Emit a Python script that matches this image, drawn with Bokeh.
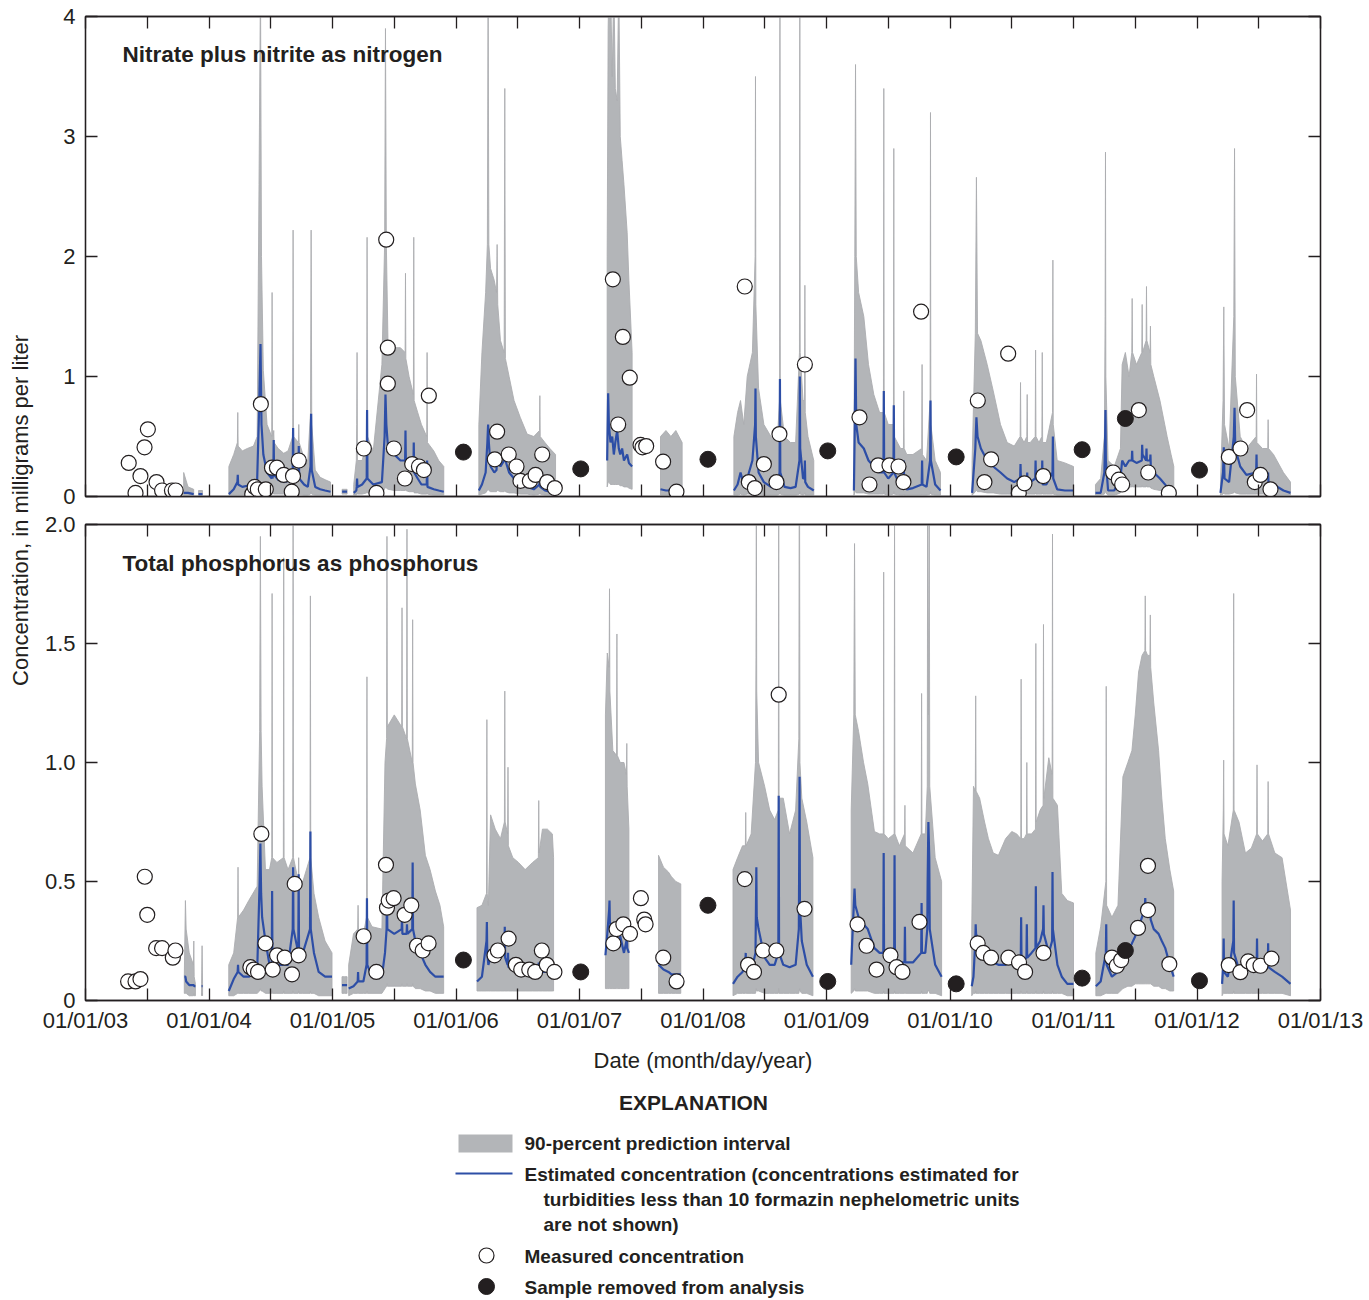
import math
from bokeh.plotting import figure
from bokeh.layouts import column, row
from bokeh.models import FixedTicker, LinearAxis, Range1d, Label
from bokeh.embed import file_html
from bokeh.resources import INLINE

FONT = "Liberation Sans"
INK = "#231f20"
BAND = "#b3b5b8"
BAND_EDGE = "#abadb0"
BLUE = "#2d4ea6"

# ---------------------------------------------------------------- axis labels
YEAR_TICKS = list(range(2003, 2014))
YEAR_LABELS = ["01/01/03", "01/01/04", "01/01/05", "01/01/06", "01/01/07", "01/01/08",
               "01/01/09", "01/01/10", "01/01/11", "01/01/12", "01/01/13"]
HALF_YEAR_TICKS = [2003.5, 2004.5, 2005.5, 2006.5, 2007.5, 2008.5, 2009.5, 2010.5, 2011.5, 2012.5]
NO3_YTICKS = [0, 1, 2, 3, 4]
NO3_YLABELS = ["0", "1", "2", "3", "4"]
TP_YTICKS = [0, 0.5, 1.0, 1.5, 2.0]
TP_YLABELS = ["0", "0.5", "1.0", "1.5", "2.0"]

# ------------------------------------------- nitrate plus nitrite (mg/L), by season
NO3_T = [
    [2003.795, 2003.83, 2003.876],
    [2003.915, 2003.947],
    [2004.161, 2004.20, 2004.230, 2004.233, 2004.236, 2004.27, 2004.31, 2004.36, 2004.39, 2004.405,
     2004.417, 2004.425, 2004.44, 2004.47, 2004.508, 2004.511, 2004.514, 2004.521, 2004.524, 2004.527,
     2004.56, 2004.605, 2004.64, 2004.678, 2004.681, 2004.684, 2004.724, 2004.727, 2004.730, 2004.77,
     2004.80, 2004.822, 2004.827, 2004.832, 2004.86, 2004.90, 2004.94, 2004.984],
    [2005.078, 2005.098, 2005.118],
    [2005.172, 2005.193, 2005.196, 2005.199, 2005.202, 2005.24, 2005.277, 2005.280, 2005.283, 2005.33,
     2005.40, 2005.422, 2005.429, 2005.436, 2005.45, 2005.50, 2005.55, 2005.588, 2005.591, 2005.594,
     2005.62, 2005.655, 2005.658, 2005.661, 2005.69, 2005.72, 2005.763, 2005.766, 2005.769, 2005.82,
     2005.86, 2005.901],
    [2006.185, 2006.21, 2006.24, 2006.254, 2006.260, 2006.266, 2006.28, 2006.31, 2006.328, 2006.333,
     2006.338, 2006.36, 2006.390, 2006.395, 2006.400, 2006.43, 2006.47, 2006.52, 2006.576, 2006.63,
     2006.676, 2006.679, 2006.682, 2006.72, 2006.76, 2006.806],
    [2007.224, 2007.232, 2007.238, 2007.251, 2007.265, 2007.278, 2007.29, 2007.305, 2007.318, 2007.33,
     2007.345, 2007.36, 2007.386, 2007.40, 2007.426],
    [2007.656, 2007.70, 2007.74, 2007.78, 2007.831],
    [2008.25, 2008.28, 2008.304, 2008.33, 2008.358, 2008.40, 2008.422, 2008.425, 2008.428, 2008.45,
     2008.493, 2008.55, 2008.60, 2008.620, 2008.623, 2008.626, 2008.66, 2008.709, 2008.75, 2008.781,
     2008.784, 2008.787, 2008.81, 2008.822, 2008.825, 2008.828, 2008.85, 2008.897],
    [2009.222, 2009.229, 2009.235, 2009.241, 2009.26, 2009.302, 2009.34, 2009.383, 2009.43, 2009.461,
     2009.464, 2009.467, 2009.50, 2009.542, 2009.545, 2009.548, 2009.60, 2009.623, 2009.626, 2009.629,
     2009.65, 2009.70, 2009.771, 2009.774, 2009.777, 2009.81, 2009.839, 2009.842, 2009.845, 2009.88,
     2009.923],
    [2010.179, 2010.205, 2010.214, 2010.223, 2010.25, 2010.301, 2010.35, 2010.409, 2010.463, 2010.52,
     2010.568, 2010.571, 2010.574, 2010.60, 2010.622, 2010.625, 2010.628, 2010.65, 2010.69, 2010.693,
     2010.696, 2010.72, 2010.744, 2010.747, 2010.750, 2010.78, 2010.830, 2010.833, 2010.836, 2010.868,
     2010.93, 2011.0],
    [2011.178, 2011.22, 2011.25, 2011.256, 2011.259, 2011.262, 2011.28, 2011.33, 2011.38, 2011.394,
     2011.42, 2011.45, 2011.472, 2011.475, 2011.478, 2011.51, 2011.553, 2011.556, 2011.559, 2011.588,
     2011.591, 2011.594, 2011.620, 2011.623, 2011.626, 2011.65, 2011.70, 2011.758, 2011.79, 2011.812],
    [2012.19, 2012.211, 2012.217, 2012.223, 2012.26, 2012.298, 2012.304, 2012.310, 2012.35, 2012.40,
     2012.479, 2012.482, 2012.485, 2012.53, 2012.573, 2012.576, 2012.579, 2012.62, 2012.70, 2012.757],
]
NO3_HI = [
    [0.20, 0.08, 0.06],
    [0.05, 0.05],
    [0.25, 0.35, 0.45, 0.70, 0.42, 0.38, 0.40, 0.42, 0.50, 2.60,
     4.30, 2.00, 1.05, 0.60, 0.50, 1.70, 0.50, 0.50, 0.55, 0.45,
     0.40, 0.36, 0.38, 0.50, 2.22, 0.50, 0.45, 0.60, 0.45, 0.32,
     0.30, 0.70, 2.22, 0.60, 0.22, 0.16, 0.14, 0.12],
    [0.06, 0.06, 0.06],
    [0.10, 0.30, 0.60, 1.20, 0.30, 0.30, 0.45, 2.16, 0.50, 0.38,
     1.10, 2.10, 3.90, 2.10, 1.24, 1.24, 1.24, 1.20, 1.86, 1.15,
     1.00, 0.85, 2.16, 0.80, 0.70, 0.60, 0.50, 1.20, 0.45, 0.38,
     0.30, 0.25],
    [0.60, 1.20, 1.70, 2.10, 4.30, 2.10, 1.90, 1.80, 1.70, 2.10,
     1.60, 1.30, 1.20, 3.40, 1.15, 1.00, 0.80, 0.66, 0.52, 0.50,
     0.55, 0.84, 0.50, 0.45, 0.40, 0.35],
    [2.00, 3.90, 4.30, 4.30, 3.50, 4.30, 3.40, 3.30, 4.30, 3.00,
     2.80, 2.60, 2.20, 1.80, 1.20],
    [0.50, 0.55, 0.50, 0.55, 0.45],
    [0.50, 0.70, 0.80, 0.60, 1.00, 1.20, 2.00, 3.50, 1.60, 0.90,
     0.60, 0.50, 0.45, 0.80, 4.30, 0.80, 0.50, 0.45, 0.45, 1.20,
     4.30, 1.20, 0.80, 0.80, 1.76, 0.70, 0.50, 0.30],
    [0.30, 2.00, 3.60, 2.00, 1.70, 1.50, 1.10, 0.85, 0.70, 0.70,
     3.40, 0.70, 0.60, 0.60, 2.90, 0.50, 0.40, 0.40, 0.88, 0.40,
     0.35, 0.35, 0.40, 1.10, 0.35, 0.30, 0.80, 3.20, 0.60, 0.30,
     0.20],
    [0.30, 1.36, 2.66, 1.36, 1.30, 1.10, 0.88, 0.60, 0.45, 0.42,
     0.50, 0.95, 0.50, 0.45, 0.50, 0.85, 0.45, 0.45, 0.50, 1.22,
     0.50, 0.45, 0.50, 1.20, 0.45, 0.45, 0.70, 1.97, 0.60, 0.30,
     0.28, 0.25],
    [0.10, 0.15, 0.50, 1.50, 2.87, 1.00, 0.30, 0.25, 0.40, 1.10,
     1.20, 1.00, 1.20, 1.65, 1.20, 1.10, 1.20, 1.60, 1.20, 1.30,
     1.75, 1.30, 1.20, 1.42, 1.10, 1.00, 0.80, 0.50, 0.35, 0.25],
    [0.10, 0.80, 1.58, 0.60, 0.40, 1.50, 2.90, 1.00, 0.50, 0.40,
     0.50, 1.02, 0.45, 0.40, 0.40, 0.64, 0.40, 0.35, 0.20, 0.12],
]
NO3_EST = [
    [0.03, 0.03, 0.02],
    [0.02, 0.02],
    [0.02, 0.06, 0.12, 0.18, 0.10, 0.08, 0.09, 0.10, 0.14, 0.70,
     1.27, 0.60, 0.35, 0.20, 0.15, 0.30, 0.15, 0.20, 0.47, 0.18,
     0.14, 0.12, 0.13, 0.20, 0.57, 0.20, 0.18, 0.42, 0.15, 0.10,
     0.08, 0.25, 0.69, 0.22, 0.08, 0.06, 0.05, 0.04],
    [0.04, 0.04, 0.04],
    [0.03, 0.05, 0.08, 0.15, 0.08, 0.10, 0.15, 0.72, 0.15, 0.10,
     0.12, 0.50, 0.85, 0.60, 0.40, 0.35, 0.30, 0.30, 0.55, 0.30,
     0.25, 0.22, 0.45, 0.20, 0.15, 0.10, 0.10, 0.30, 0.08, 0.06,
     0.05, 0.04],
    [0.05, 0.10, 0.20, 0.45, 0.60, 0.45, 0.25, 0.20, 0.22, 0.35,
     0.30, 0.25, 0.30, 0.40, 0.30, 0.20, 0.15, 0.10, 0.08, 0.06,
     0.10, 0.22, 0.08, 0.05, 0.04, 0.03],
    [0.30, 0.86, 0.60, 0.45, 0.50, 0.35, 0.45, 0.55, 0.40, 0.35,
     0.40, 0.30, 0.35, 0.28, 0.25],
    [0.06, 0.05, 0.05, 0.04, 0.03],
    [0.05, 0.10, 0.20, 0.10, 0.15, 0.30, 0.60, 0.90, 0.50, 0.20,
     0.12, 0.08, 0.07, 0.20, 0.98, 0.20, 0.08, 0.07, 0.08, 0.30,
     1.00, 0.40, 0.15, 0.15, 0.30, 0.12, 0.08, 0.05],
    [0.05, 0.60, 1.15, 0.60, 0.45, 0.40, 0.30, 0.25, 0.20, 0.20,
     0.88, 0.20, 0.15, 0.20, 0.76, 0.20, 0.08, 0.08, 0.30, 0.07,
     0.06, 0.07, 0.10, 0.30, 0.10, 0.08, 0.30, 0.80, 0.30, 0.10,
     0.05],
    [0.03, 0.40, 0.66, 0.50, 0.40, 0.30, 0.25, 0.20, 0.15, 0.12,
     0.15, 0.27, 0.15, 0.12, 0.12, 0.20, 0.12, 0.12, 0.15, 0.30,
     0.15, 0.12, 0.12, 0.30, 0.10, 0.10, 0.20, 0.50, 0.15, 0.06,
     0.05, 0.05],
    [0.03, 0.03, 0.20, 0.50, 0.72, 0.30, 0.05, 0.05, 0.15, 0.30,
     0.25, 0.30, 0.30, 0.38, 0.30, 0.28, 0.30, 0.43, 0.35, 0.30,
     0.40, 0.30, 0.30, 0.35, 0.25, 0.20, 0.15, 0.08, 0.05, 0.04],
    [0.03, 0.20, 0.41, 0.15, 0.12, 0.50, 0.74, 0.40, 0.25, 0.18,
     0.20, 0.35, 0.18, 0.15, 0.15, 0.20, 0.12, 0.10, 0.05, 0.03],
]
NO3_LO = [
    [0.01, 0.01, 0.01],
    [0.01, 0.01],
    [0.01, 0.01, 0.01, 0.01, 0.01, 0.01, 0.01, 0.01, 0.01, 0.05,
     0.08, 0.05, 0.03, 0.02, 0.02, 0.03, 0.02, 0.02, 0.03, 0.02,
     0.02, 0.02, 0.02, 0.02, 0.04, 0.02, 0.02, 0.03, 0.02, 0.01,
     0.01, 0.02, 0.04, 0.02, 0.01, 0.01, 0.01, 0.01],
    [0.02, 0.02, 0.02],
    [0.01, 0.01, 0.02, 0.03, 0.02, 0.02, 0.03, 0.05, 0.03, 0.02,
     0.03, 0.06, 0.08, 0.07, 0.06, 0.05, 0.05, 0.05, 0.06, 0.05,
     0.04, 0.04, 0.05, 0.03, 0.03, 0.02, 0.02, 0.03, 0.02, 0.01,
     0.01, 0.01],
    [0.01, 0.02, 0.03, 0.05, 0.06, 0.05, 0.04, 0.04, 0.04, 0.05,
     0.05, 0.04, 0.04, 0.05, 0.04, 0.03, 0.03, 0.02, 0.02, 0.01,
     0.02, 0.03, 0.02, 0.01, 0.01, 0.01],
    [0.08, 0.12, 0.12, 0.10, 0.10, 0.10, 0.10, 0.10, 0.10, 0.09,
     0.09, 0.08, 0.08, 0.07, 0.06],
    [0.01, 0.01, 0.01, 0.01, 0.01],
    [0.01, 0.01, 0.02, 0.01, 0.02, 0.02, 0.03, 0.04, 0.03, 0.02,
     0.01, 0.01, 0.01, 0.02, 0.04, 0.02, 0.01, 0.01, 0.01, 0.02,
     0.04, 0.02, 0.01, 0.02, 0.03, 0.01, 0.01, 0.01],
    [0.01, 0.03, 0.05, 0.03, 0.03, 0.03, 0.02, 0.02, 0.02, 0.02,
     0.05, 0.02, 0.01, 0.02, 0.04, 0.02, 0.01, 0.01, 0.02, 0.01,
     0.01, 0.01, 0.01, 0.02, 0.01, 0.01, 0.02, 0.04, 0.02, 0.01,
     0.01],
    [0.01, 0.04, 0.05, 0.04, 0.04, 0.03, 0.03, 0.02, 0.02, 0.02,
     0.02, 0.03, 0.02, 0.02, 0.02, 0.02, 0.02, 0.02, 0.02, 0.03,
     0.02, 0.02, 0.02, 0.03, 0.02, 0.02, 0.02, 0.04, 0.02, 0.01,
     0.01, 0.01],
    [0.01, 0.01, 0.02, 0.04, 0.05, 0.03, 0.01, 0.01, 0.03, 0.08,
     0.08, 0.08, 0.08, 0.09, 0.08, 0.08, 0.08, 0.09, 0.08, 0.08,
     0.09, 0.08, 0.08, 0.08, 0.07, 0.06, 0.05, 0.03, 0.02, 0.01],
    [0.01, 0.02, 0.03, 0.02, 0.02, 0.03, 0.04, 0.03, 0.02, 0.02,
     0.02, 0.02, 0.02, 0.02, 0.02, 0.02, 0.02, 0.01, 0.01, 0.01],
]
NO3_MEAS_T = [2003.35, 2003.405, 2003.445, 2003.478, 2003.505, 2003.575, 2003.62, 2003.70, 2003.73,
              2004.35, 2004.37, 2004.395, 2004.42, 2004.46, 2004.51, 2004.55, 2004.605, 2004.67, 2004.68, 2004.727,
              2005.254, 2005.356, 2005.435, 2005.448, 2005.448, 2005.497, 2005.586, 2005.645, 2005.70, 2005.74, 2005.78,
              2006.314, 2006.333, 2006.427, 2006.49, 2006.522, 2006.598, 2006.644, 2006.698, 2006.738, 2006.80,
              2007.27, 2007.313, 2007.351, 2007.407, 2007.494, 2007.51, 2007.54, 2007.677, 2007.785,
              2008.338, 2008.371, 2008.42, 2008.493, 2008.595, 2008.619, 2008.825,
              2009.267, 2009.348, 2009.418, 2009.51, 2009.583, 2009.623, 2009.766,
              2010.225, 2010.279, 2010.333, 2010.471, 2010.557, 2010.603, 2010.755,
              2011.321, 2011.367, 2011.394, 2011.529, 2011.605, 2011.772,
              2012.258, 2012.352, 2012.406, 2012.468, 2012.514, 2012.595]
NO3_MEAS = [0.28, 0.03, 0.17, 0.41, 0.56, 0.12, 0.05, 0.05, 0.05,
            0.02, 0.08, 0.06, 0.77, 0.06, 0.24, 0.24, 0.18, 0.04, 0.17, 0.30,
            0.40, 0.03, 2.14, 1.24, 0.94, 0.40, 0.15, 0.27, 0.25, 0.22, 0.84,
            0.31, 0.54, 0.35, 0.25, 0.13, 0.13, 0.18, 0.35, 0.12, 0.07,
            1.81, 0.60, 1.33, 0.99, 0.43, 0.41, 0.42, 0.29, 0.04,
            1.75, 0.12, 0.07, 0.27, 0.12, 0.52, 1.10,
            0.66, 0.10, 0.26, 0.26, 0.25, 0.12, 1.54,
            0.80, 0.12, 0.31, 1.19, 0.03, 0.11, 0.17,
            0.20, 0.14, 0.10, 0.72, 0.20, 0.03,
            0.33, 0.40, 0.72, 0.12, 0.18, 0.06]

# -------------------------------------------- total phosphorus (mg/L), by season
TP_T = [
    [2003.800, 2003.809, 2003.815, 2003.84, 2003.874, 2003.877, 2003.880, 2003.89],
    [2003.940, 2003.944, 2003.948],
    [2004.16, 2004.20, 2004.232, 2004.235, 2004.238, 2004.28, 2004.322, 2004.39, 2004.410, 2004.416,
     2004.422, 2004.43, 2004.457, 2004.49, 2004.508, 2004.511, 2004.514, 2004.55, 2004.602, 2004.605,
     2004.608, 2004.64, 2004.678, 2004.681, 2004.684, 2004.723, 2004.726, 2004.729, 2004.76, 2004.818,
     2004.821, 2004.824, 2004.85, 2004.888, 2004.94, 2004.996],
    [2005.077, 2005.098, 2005.118],
    [2005.131, 2005.17, 2005.204, 2005.207, 2005.21, 2005.25, 2005.276, 2005.279, 2005.282, 2005.32,
     2005.40, 2005.425, 2005.438, 2005.441, 2005.444, 2005.50, 2005.560, 2005.563, 2005.566, 2005.60,
     2005.603, 2005.606, 2005.646, 2005.649, 2005.652, 2005.671, 2005.71, 2005.752, 2005.79, 2005.833,
     2005.87, 2005.90],
    [2006.170, 2006.21, 2006.247, 2006.250, 2006.253, 2006.262, 2006.28, 2006.318, 2006.36, 2006.392,
     2006.395, 2006.398, 2006.418, 2006.421, 2006.424, 2006.46, 2006.506, 2006.56, 2006.62, 2006.667,
     2006.670, 2006.673, 2006.70, 2006.74, 2006.78, 2006.79],
    [2007.21, 2007.225, 2007.240, 2007.243, 2007.246, 2007.27, 2007.30, 2007.303, 2007.306, 2007.33,
     2007.36, 2007.38, 2007.383, 2007.386, 2007.40],
    [2007.64, 2007.68, 2007.72, 2007.745, 2007.78, 2007.82],
    [2008.243, 2008.28, 2008.32, 2008.343, 2008.346, 2008.349, 2008.39, 2008.425, 2008.429, 2008.432,
     2008.435, 2008.45, 2008.499, 2008.54, 2008.58, 2008.610, 2008.613, 2008.616, 2008.65, 2008.701,
     2008.75, 2008.776, 2008.779, 2008.782, 2008.785, 2008.80, 2008.84, 2008.89],
    [2009.20, 2009.221, 2009.227, 2009.233, 2009.26, 2009.30, 2009.334, 2009.388, 2009.43, 2009.460,
     2009.463, 2009.466, 2009.50, 2009.548, 2009.551, 2009.554, 2009.59, 2009.632, 2009.635, 2009.638,
     2009.70, 2009.767, 2009.770, 2009.773, 2009.80, 2009.816, 2009.819, 2009.825, 2009.832, 2009.836,
     2009.88, 2009.932],
    [2010.176, 2010.19, 2010.205, 2010.208, 2010.211, 2010.24, 2010.28, 2010.311, 2010.35, 2010.392,
     2010.45, 2010.50, 2010.54, 2010.573, 2010.576, 2010.579, 2010.60, 2010.619, 2010.622, 2010.625,
     2010.66, 2010.692, 2010.695, 2010.698, 2010.73, 2010.754, 2010.757, 2010.760, 2010.80, 2010.827,
     2010.830, 2010.833, 2010.87, 2010.905, 2010.95, 2011.0],
    [2011.181, 2011.22, 2011.262, 2011.265, 2011.268, 2011.311, 2011.36, 2011.40, 2011.44, 2011.473,
     2011.50, 2011.527, 2011.555, 2011.578, 2011.581, 2011.584, 2011.60, 2011.619, 2011.622, 2011.625,
     2011.65, 2011.689, 2011.715, 2011.743, 2011.78, 2011.811],
    [2012.203, 2012.213, 2012.216, 2012.219, 2012.25, 2012.294, 2012.297, 2012.30, 2012.34, 2012.392,
     2012.44, 2012.483, 2012.486, 2012.489, 2012.53, 2012.573, 2012.576, 2012.579, 2012.63, 2012.689,
     2012.757],
]
TP_HI = [
    [0.10, 0.42, 0.30, 0.20, 0.15, 0.25, 0.10, 0.07],
    [0.07, 0.23, 0.07],
    [0.15, 0.20, 0.35, 0.56, 0.35, 0.38, 0.42, 0.48, 1.13, 1.95,
     1.13, 0.90, 0.55, 0.55, 0.60, 1.71, 0.60, 0.58, 0.60, 1.86,
     0.60, 0.55, 0.60, 2.05, 0.60, 0.50, 0.60, 0.50, 0.50, 0.60,
     1.70, 0.60, 0.45, 0.35, 0.25, 0.20],
    [0.10, 0.10, 0.10],
    [0.15, 0.28, 0.30, 0.40, 0.30, 0.28, 0.35, 1.36, 0.35, 0.31,
     0.30, 1.00, 1.10, 1.95, 1.15, 1.20, 1.15, 1.65, 1.15, 1.10,
     1.98, 1.10, 1.00, 1.60, 1.00, 0.91, 0.80, 0.61, 0.55, 0.46,
     0.40, 0.31],
    [0.39, 0.40, 0.45, 1.18, 0.45, 0.40, 0.78, 0.72, 0.68, 0.75,
     1.30, 0.75, 0.70, 0.98, 0.65, 0.60, 0.58, 0.55, 0.58, 0.60,
     0.84, 0.62, 0.72, 0.72, 0.70, 0.60],
    [1.20, 1.46, 1.40, 1.73, 1.30, 1.05, 1.03, 1.54, 1.03, 1.00,
     1.00, 0.95, 1.08, 0.90, 0.72],
    [0.61, 0.56, 0.54, 0.52, 0.50, 0.49],
    [0.55, 0.60, 0.65, 0.65, 0.79, 0.65, 0.70, 1.00, 1.44, 2.10,
     1.30, 1.00, 0.90, 0.80, 0.76, 0.80, 2.10, 0.85, 0.85, 0.70,
     0.80, 1.10, 2.10, 2.10, 1.00, 0.85, 0.75, 0.60],
    [0.80, 1.20, 1.92, 1.20, 1.13, 1.00, 0.91, 0.71, 0.70, 0.70,
     1.80, 0.70, 0.68, 0.70, 2.10, 0.70, 0.65, 0.70, 0.82, 0.65,
     0.62, 0.70, 1.29, 0.70, 0.70, 0.90, 2.10, 1.20, 2.10, 0.90,
     0.60, 0.50],
    [0.30, 0.90, 0.88, 1.28, 0.88, 0.85, 0.75, 0.68, 0.62, 0.61,
     0.68, 0.71, 0.70, 0.68, 1.35, 0.68, 0.68, 0.70, 1.00, 0.70,
     0.70, 0.72, 1.50, 0.75, 0.80, 0.82, 1.58, 0.85, 1.02, 0.95,
     1.96, 0.85, 0.82, 0.45, 0.42, 0.41],
    [0.20, 0.31, 0.50, 1.32, 0.40, 0.35, 0.40, 0.94, 1.00, 1.05,
     1.20, 1.38, 1.45, 1.47, 1.70, 1.47, 1.45, 1.45, 1.62, 1.40,
     1.25, 1.05, 0.85, 0.68, 0.55, 0.46],
    [0.50, 0.80, 1.01, 0.70, 0.65, 0.80, 1.71, 0.80, 0.75, 0.62,
     0.64, 0.70, 0.99, 0.70, 0.67, 0.70, 0.92, 0.70, 0.62, 0.60,
     0.38],
]
TP_EST = [
    [0.10, 0.10, 0.08, 0.065, 0.065, 0.065, 0.06, 0.06],
    [0.06, 0.06, 0.06],
    [0.04, 0.09, 0.12, 0.15, 0.12, 0.10, 0.10, 0.12, 0.50, 0.66,
     0.45, 0.35, 0.25, 0.15, 0.15, 0.46, 0.15, 0.15, 0.15, 0.20,
     0.15, 0.15, 0.30, 0.56, 0.30, 0.20, 0.53, 0.20, 0.20, 0.30,
     0.71, 0.30, 0.20, 0.12, 0.10, 0.10],
    [0.065, 0.065, 0.065],
    [0.05, 0.06, 0.08, 0.12, 0.08, 0.08, 0.15, 0.43, 0.15, 0.10,
     0.10, 0.20, 0.30, 0.45, 0.30, 0.28, 0.30, 0.35, 0.28, 0.28,
     0.32, 0.28, 0.30, 0.58, 0.30, 0.25, 0.20, 0.15, 0.12, 0.10,
     0.10, 0.10],
    [0.08, 0.10, 0.25, 0.33, 0.20, 0.15, 0.18, 0.18, 0.18, 0.20,
     0.31, 0.18, 0.15, 0.20, 0.14, 0.14, 0.13, 0.12, 0.12, 0.12,
     0.16, 0.12, 0.12, 0.12, 0.12, 0.11],
    [0.19, 0.28, 0.38, 0.42, 0.33, 0.28, 0.25, 0.30, 0.22, 0.27,
     0.20, 0.25, 0.28, 0.22, 0.20],
    [0.15, 0.13, 0.12, 0.11, 0.11, 0.11],
    [0.07, 0.10, 0.12, 0.15, 0.20, 0.12, 0.12, 0.20, 0.40, 0.56,
     0.35, 0.30, 0.18, 0.15, 0.15, 0.20, 0.86, 0.20, 0.15, 0.14,
     0.15, 0.30, 0.60, 0.94, 0.40, 0.25, 0.15, 0.10],
    [0.15, 0.40, 0.47, 0.40, 0.35, 0.32, 0.30, 0.22, 0.20, 0.20,
     0.62, 0.20, 0.18, 0.20, 0.61, 0.18, 0.16, 0.16, 0.31, 0.16,
     0.16, 0.20, 0.41, 0.20, 0.20, 0.30, 0.50, 0.75, 0.60, 0.30,
     0.15, 0.10],
    [0.06, 0.10, 0.25, 0.32, 0.28, 0.24, 0.20, 0.18, 0.16, 0.15,
     0.15, 0.16, 0.17, 0.17, 0.35, 0.17, 0.17, 0.18, 0.32, 0.18,
     0.20, 0.22, 0.48, 0.22, 0.25, 0.30, 0.40, 0.28, 0.20, 0.25,
     0.54, 0.30, 0.15, 0.10, 0.07, 0.07],
    [0.06, 0.08, 0.20, 0.32, 0.15, 0.10, 0.12, 0.18, 0.20, 0.24,
     0.27, 0.31, 0.35, 0.40, 0.43, 0.40, 0.36, 0.35, 0.38, 0.34,
     0.30, 0.28, 0.25, 0.22, 0.15, 0.10],
    [0.07, 0.15, 0.26, 0.12, 0.10, 0.25, 0.42, 0.20, 0.13, 0.13,
     0.13, 0.15, 0.26, 0.15, 0.13, 0.14, 0.24, 0.14, 0.12, 0.10,
     0.07],
]
TP_LO = [
    [0.03, 0.03, 0.03, 0.02, 0.02, 0.03, 0.02, 0.02],
    [0.02, 0.03, 0.02],
    [0.02, 0.02, 0.03, 0.03, 0.03, 0.03, 0.03, 0.03, 0.04, 0.05,
     0.04, 0.04, 0.03, 0.03, 0.03, 0.04, 0.03, 0.03, 0.03, 0.04,
     0.03, 0.03, 0.03, 0.04, 0.03, 0.03, 0.04, 0.03, 0.03, 0.03,
     0.04, 0.03, 0.03, 0.02, 0.02, 0.02],
    [0.03, 0.03, 0.03],
    [0.02, 0.03, 0.03, 0.03, 0.03, 0.03, 0.03, 0.04, 0.03, 0.03,
     0.03, 0.05, 0.06, 0.07, 0.06, 0.06, 0.06, 0.07, 0.06, 0.06,
     0.07, 0.06, 0.06, 0.07, 0.06, 0.05, 0.05, 0.04, 0.04, 0.03,
     0.03, 0.03],
    [0.04, 0.04, 0.04, 0.04, 0.04, 0.04, 0.04, 0.04, 0.04, 0.04,
     0.04, 0.04, 0.04, 0.04, 0.04, 0.04, 0.04, 0.04, 0.04, 0.04,
     0.04, 0.04, 0.04, 0.04, 0.04, 0.04],
    [0.05, 0.05, 0.05, 0.05, 0.05, 0.05, 0.05, 0.05, 0.05, 0.05,
     0.05, 0.05, 0.05, 0.05, 0.05],
    [0.03, 0.03, 0.03, 0.03, 0.03, 0.03],
    [0.02, 0.03, 0.03, 0.03, 0.03, 0.03, 0.03, 0.03, 0.04, 0.05,
     0.04, 0.04, 0.03, 0.03, 0.03, 0.03, 0.05, 0.03, 0.03, 0.03,
     0.03, 0.03, 0.04, 0.05, 0.04, 0.03, 0.03, 0.02],
    [0.03, 0.04, 0.05, 0.04, 0.04, 0.04, 0.04, 0.03, 0.03, 0.03,
     0.04, 0.03, 0.03, 0.03, 0.04, 0.03, 0.03, 0.03, 0.03, 0.03,
     0.03, 0.03, 0.04, 0.03, 0.03, 0.03, 0.04, 0.04, 0.04, 0.03,
     0.03, 0.02],
    [0.02, 0.03, 0.03, 0.04, 0.03, 0.03, 0.03, 0.03, 0.03, 0.03,
     0.03, 0.03, 0.03, 0.03, 0.04, 0.03, 0.03, 0.03, 0.04, 0.03,
     0.03, 0.03, 0.04, 0.03, 0.03, 0.03, 0.04, 0.03, 0.03, 0.03,
     0.04, 0.03, 0.03, 0.03, 0.02, 0.02],
    [0.02, 0.02, 0.03, 0.03, 0.03, 0.03, 0.03, 0.05, 0.06, 0.06,
     0.07, 0.07, 0.07, 0.07, 0.07, 0.07, 0.07, 0.07, 0.07, 0.07,
     0.06, 0.06, 0.05, 0.05, 0.04, 0.04],
    [0.02, 0.03, 0.03, 0.03, 0.03, 0.03, 0.04, 0.03, 0.03, 0.03,
     0.03, 0.03, 0.03, 0.03, 0.03, 0.03, 0.03, 0.03, 0.03, 0.03,
     0.02],
]
TP_MEAS_T = [2003.345, 2003.405, 2003.445, 2003.48, 2003.50, 2003.572, 2003.62, 2003.707, 2003.728,
             2004.335, 2004.362, 2004.397, 2004.424, 2004.457, 2004.516, 2004.551, 2004.613, 2004.672, 2004.694, 2004.726,
             2005.252, 2005.355, 2005.433, 2005.441, 2005.455, 2005.495, 2005.584, 2005.638, 2005.684, 2005.73, 2005.778,
             2006.312, 2006.339, 2006.426, 2006.485, 2006.528, 2006.593, 2006.641, 2006.695, 2006.735, 2006.797,
             2007.274, 2007.30, 2007.355, 2007.409, 2007.497, 2007.524, 2007.535, 2007.678, 2007.786,
             2008.338, 2008.365, 2008.413, 2008.486, 2008.594, 2008.613, 2008.822,
             2009.251, 2009.324, 2009.405, 2009.518, 2009.567, 2009.615, 2009.753,
             2010.224, 2010.27, 2010.332, 2010.473, 2010.559, 2010.608, 2010.757,
             2011.311, 2011.351, 2011.386, 2011.522, 2011.603, 2011.603, 2011.776,
             2012.257, 2012.351, 2012.414, 2012.459, 2012.514, 2012.603]
TP_MEAS = [0.08, 0.08, 0.09, 0.52, 0.36, 0.22, 0.22, 0.18, 0.21,
           0.14, 0.13, 0.12, 0.70, 0.24, 0.13, 0.19, 0.18, 0.11, 0.49, 0.19,
           0.27, 0.12, 0.57, 0.39, 0.42, 0.43, 0.36, 0.40, 0.23, 0.21, 0.24,
           0.19, 0.21, 0.26, 0.15, 0.13, 0.13, 0.12, 0.21, 0.15, 0.12,
           0.24, 0.30, 0.32, 0.28, 0.43, 0.34, 0.32, 0.18, 0.08,
           0.51, 0.15, 0.12, 0.21, 0.21, 1.285, 0.385,
           0.32, 0.23, 0.13, 0.19, 0.14, 0.12, 0.33,
           0.24, 0.20, 0.18, 0.18, 0.16, 0.12, 0.20,
           0.18, 0.146, 0.17, 0.305, 0.38, 0.566, 0.153,
           0.149, 0.119, 0.164, 0.149, 0.146, 0.176]

# samples removed from analysis (same dates in both panels)
REMOVED_T = [2006.06, 2007.01, 2008.04, 2009.01, 2010.05, 2011.07, 2011.42, 2012.02]
NO3_REMOVED = [0.37, 0.23, 0.31, 0.38, 0.33, 0.39, 0.65, 0.22]
TP_REMOVED = [0.17, 0.12, 0.40, 0.08, 0.07, 0.094, 0.21, 0.083]


def style_axis(ax, show_labels=True, standoff=9, font_size="22px"):
    ax.axis_line_color = INK
    ax.axis_line_width = 1.3
    ax.major_tick_in = 12
    ax.major_tick_out = 0
    ax.major_tick_line_color = INK
    ax.major_tick_line_width = 1.3
    ax.minor_tick_in = 12
    ax.minor_tick_out = 0
    ax.minor_tick_line_color = INK
    ax.minor_tick_line_width = 1.3
    ax.major_label_text_font = FONT
    if show_labels:
        ax.major_label_text_color = INK
        ax.major_label_text_font_size = font_size
        ax.major_label_standoff = standoff
    else:
        # tick marks only on this side
        ax.major_label_text_color = None
        ax.major_label_text_font_size = "0px"
        ax.major_label_standoff = 0


def panel(height, top, bottom, ymax, yticks, ylabels, x_labels, name, name_y,
          T, HI, EST, LO, mt, mv, rv):
    p = figure(width=1334, height=height, x_range=Range1d(2003, 2013), y_range=Range1d(0, ymax),
               x_axis_type=None, y_axis_type=None, output_backend="svg", toolbar_location=None,
               min_border_left=50, min_border_right=49, min_border_top=top, min_border_bottom=bottom)
    p.outline_line_color = INK
    p.outline_line_width = 1.3
    p.grid.visible = False
    p.background_fill_color = "white"
    p.border_fill_color = "white"

    xt = FixedTicker(ticks=YEAR_TICKS, minor_ticks=HALF_YEAR_TICKS)
    yt = FixedTicker(ticks=yticks, minor_ticks=[])
    xb = LinearAxis(ticker=xt)
    style_axis(xb, show_labels=x_labels, standoff=7)
    if x_labels:
        xb.major_label_overrides = dict(zip(YEAR_TICKS, YEAR_LABELS))
        xb.axis_label = "Date (month/day/year)"
        xb.axis_label_text_font = FONT
        xb.axis_label_text_font_style = "normal"
        xb.axis_label_text_font_size = "22px"
        xb.axis_label_text_color = INK
        xb.axis_label_standoff = 12
    xa = LinearAxis(ticker=xt)
    style_axis(xa, show_labels=False)
    yl = LinearAxis(ticker=yt)
    style_axis(yl, standoff=10)
    yl.major_label_overrides = dict(zip(yticks, ylabels))
    yr = LinearAxis(ticker=yt)
    style_axis(yr, show_labels=False)
    p.add_layout(xb, "below")
    p.add_layout(xa, "above")
    p.add_layout(yl, "left")
    p.add_layout(yr, "right")

    # 90-percent prediction interval, one season at a time; the thin stroke keeps
    # single-day spikes visible as hairlines
    for t, hi, lo in zip(T, HI, LO):
        n = min(len(t), len(hi), len(lo))
        xs = list(t[:n]) + list(t[:n])[::-1]
        ys = list(hi[:n]) + list(lo[:n])[::-1]
        p.patch(xs, ys, fill_color=BAND, line_color=BAND_EDGE, line_width=0.9)
    # estimated concentration
    for t, est in zip(T, EST):
        n = min(len(t), len(est))
        p.line(t[:n], est[:n], line_color=BLUE, line_width=2.2)

    p.scatter(mt, mv, marker="circle", size=15, fill_color="white", line_color=INK, line_width=1.2)
    p.scatter(REMOVED_T, rv, marker="circle", size=16, fill_color=INK, line_color=INK, line_width=1)

    p.add_layout(Label(x=2003.30, y=name_y, text=name, text_font=FONT, text_font_style="bold",
                       text_font_size="22.5px", text_color=INK, text_baseline="middle", text_align="left"))
    return p


top_fig = panel(510, 16, 14, 4, NO3_YTICKS, NO3_YLABELS, False,
                "Nitrate plus nitrite as nitrogen", 3.683,
                NO3_T, NO3_HI, NO3_EST, NO3_LO, NO3_MEAS_T, NO3_MEAS, NO3_REMOVED)
bot_fig = panel(565, 14, 72, 2.0, TP_YTICKS, TP_YLABELS, True,
                "Total phosphorus as phosphorus", 1.8375,
                TP_T, TP_HI, TP_EST, TP_LO, TP_MEAS_T, TP_MEAS, TP_REMOVED)


def blank(w, h, xr, yr):
    f = figure(width=w, height=h, x_range=xr, y_range=yr, x_axis_type=None, y_axis_type=None,
               output_backend="svg", toolbar_location=None, min_border=0)
    f.outline_line_color = None
    f.grid.visible = False
    f.background_fill_color = "white"
    f.border_fill_color = "white"
    return f


# shared y-axis title, spanning both panels
ytitle = blank(35, 1075, Range1d(0, 35), Range1d(1075, 0))
ytitle.add_layout(Label(x=20, y=510, text="Concentration, in milligrams per liter", angle=math.pi / 2,
                        text_font=FONT, text_font_size="22px", text_color=INK,
                        text_align="center", text_baseline="middle"))

# explanation block
leg = blank(1369, 225, Range1d(0, 1369), Range1d(225, 0))
leg.rect(x=[485], y=[68], width=54, height=18, fill_color=BAND, line_color=None)
leg.line(x=[455, 512], y=[98, 98], line_color=BLUE, line_width=2.2)
leg.scatter(x=[486], y=[180], marker="circle", size=15, fill_color="white", line_color=INK, line_width=1.2)
leg.scatter(x=[486], y=[211], marker="circle", size=16, fill_color=INK, line_color=INK)


def leg_text(x, y, s, size="19px", align="left"):
    leg.add_layout(Label(x=x, y=y, text=s, text_font=FONT, text_font_style="bold", text_font_size=size,
                         text_color=INK, text_baseline="middle", text_align=align))


leg_text(693, 27, "EXPLANATION", size="21px", align="center")
leg_text(524, 68, "90-percent prediction interval")
leg_text(524, 99, "Estimated concentration (concentrations estimated for")
leg_text(543, 124, "turbidities less than 10 formazin nephelometric units")
leg_text(543, 149, "are not shown)")
leg_text(524, 181, "Measured concentration")
leg_text(524, 212, "Sample removed from analysis")

layout = column(row(ytitle, column(top_fig, bot_fig, spacing=0), spacing=0), leg, spacing=0)

with open("out.html", "w") as f:
    f.write(file_html(layout, INLINE))
